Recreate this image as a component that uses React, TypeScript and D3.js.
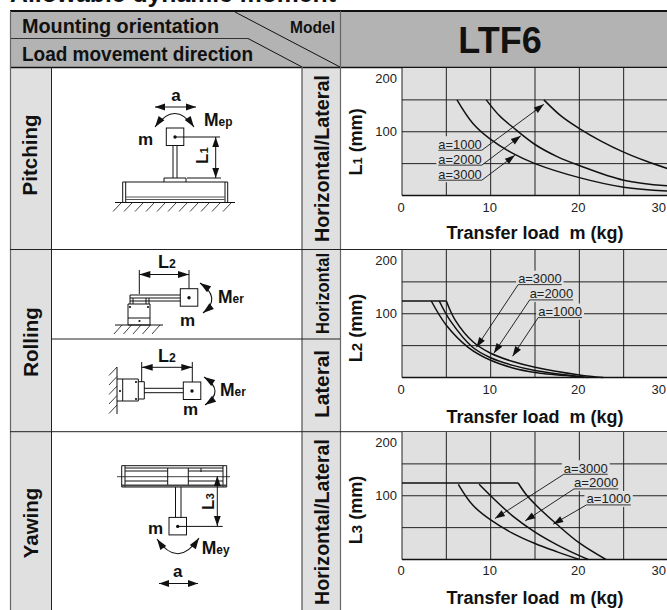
import React from "react";
import * as d3 from "d3";

const FONT = "'Liberation Sans', Arial, sans-serif";
const xTicks = [0, 10, 20, 30];
const xGrid = [5, 10, 15, 20, 25];
const yGrid = [50, 100, 150];
const yTickLabels = [100, 200];
const xTitle = "Transfer load  m (kg)";
const model = "LTF6";

type Pt = [number, number];
const ch1a1000: Pt[] = [[16, 150], [18, 124], [20, 105], [22.5, 85], [25, 68], [27.5, 54], [30, 42]];
const ch1a2000: Pt[] = [[9.5, 150], [11, 125], [12.5, 107], [15, 80], [17.5, 61], [20, 47], [25, 24], [30, 15]];
const ch1a3000: Pt[] = [[6.2, 150], [8, 113], [10, 88], [12.5, 66], [15, 50], [20, 28], [25, 13], [30, 7]];
const ch2a1000: Pt[] = [[5, 120], [6, 90], [8, 56], [10, 38], [12.5, 25], [15, 16], [20, 4], [22.7, 0]];
const ch2a2000: Pt[] = [[4.2, 120], [5.5, 88], [8, 47], [10, 31], [12.5, 19], [15, 11], [20, 1.5], [21, 0]];
const ch2a3000: Pt[] = [[3.3, 120], [5, 82], [7.5, 47], [10, 27], [12.5, 15], [15, 8], [20, 1], [20.5, 0]];
const ch2cap: Pt[] = [[0, 120], [5, 120]];
const ch3a1000: Pt[] = [[13.1, 120], [14, 102], [15.5, 80], [17.4, 56], [20, 26], [23, 0]];
const ch3a2000: Pt[] = [[8.7, 118], [10, 100], [12.5, 68], [15, 43], [17.5, 23], [20, 6], [21, 0]];
const ch3a3000: Pt[] = [[6.35, 118], [8, 85], [10, 62], [12.5, 41], [15, 25], [17.5, 12], [20, 0]];
const ch3cap: Pt[] = [[0, 120], [13.1, 120]];

type Note = { text: string; from: number; to: number; y: number; tip: Pt; side: "left" | "right" };
const notes1: Note[] = [
  { text: "a=1000", from: 4.1, to: 9, y: 71, tip: [16, 143], side: "right" },
  { text: "a=2000", from: 4.1, to: 9, y: 47.6, tip: [13.4, 93.6], side: "right" },
  { text: "a=3000", from: 4.1, to: 9, y: 24, tip: [12.73, 63], side: "right" },
];
const notes2: Note[] = [
  { text: "a=3000", from: 13.1, to: 18, y: 145.7, tip: [8.4, 47.5], side: "left" },
  { text: "a=2000", from: 14.4, to: 19.3, y: 121.7, tip: [10.36, 38], side: "left" },
  { text: "a=1000", from: 15.36, to: 20.3, y: 94, tip: [12.47, 33.4], side: "left" },
];
const notes3: Note[] = [
  { text: "a=3000", from: 18.25, to: 23.2, y: 133.7, tip: [10.48, 64.2], side: "left" },
  { text: "a=2000", from: 19.4, to: 24.4, y: 110.7, tip: [13.9, 60.6], side: "left" },
  { text: "a=1000", from: 20.8, to: 25.8, y: 85.6, tip: [17.05, 55.4], side: "left" },
];

const HEAD = "#b3b3b3";
const PANEL = "#e0e0e0";
const INK = "#111";

function Head({ x1, y1, x2, y2, size = 10, w = 3.4 }: { x1: number; y1: number; x2: number; y2: number; size?: number; w?: number }) {
  const a = Math.atan2(y2 - y1, x2 - x1);
  const bx = x2 - size * Math.cos(a);
  const by = y2 - size * Math.sin(a);
  const nx = -Math.sin(a) * w;
  const ny = Math.cos(a) * w;
  return <path d={`M${x2},${y2}L${bx + nx},${by + ny}L${bx - nx},${by - ny}Z`} fill={INK} />;
}

function DArrow({ x1, y1, x2, y2, size = 10 }: { x1: number; y1: number; x2: number; y2: number; size?: number }) {
  return (
    <g>
      <line x1={x1} y1={y1} x2={x2} y2={y2} stroke={INK} strokeWidth={1} />
      <Head x1={x1} y1={y1} x2={x2} y2={y2} size={size} />
      <Head x1={x2} y1={y2} x2={x1} y2={y1} size={size} />
    </g>
  );
}

function Bent({ a, c, b, size = 11 }: { a: Pt; c: Pt; b: Pt; size?: number }) {
  return (
    <g>
      <path d={`M${a[0]},${a[1]}Q${c[0]},${c[1]} ${b[0]},${b[1]}`} fill="none" stroke={INK} strokeWidth={1.1} />
      <Head x1={c[0]} y1={c[1]} x2={a[0]} y2={a[1]} size={size} w={3.6} />
      <Head x1={c[0]} y1={c[1]} x2={b[0]} y2={b[1]} size={size} w={3.6} />
    </g>
  );
}

function Sub({ x, y, big, small, size = 18, rotate }: { x: number; y: number; big: string; small: string; size?: number; rotate?: boolean }) {
  return (
    <text x={x} y={y} fontFamily={FONT} fontWeight="bold" fontSize={size} fill={INK}
      transform={rotate ? `rotate(-90 ${x} ${y})` : undefined}>
      {big}<tspan fontSize={size * 0.68}>{small}</tspan>
    </text>
  );
}

function Lines({ d, w = 1, c = INK }: { d: string; w?: number; c?: string }) {
  return <path d={d} fill="none" stroke={c} strokeWidth={w} />;
}

function Hatch({ xs, y, dx, dy }: { xs: number[]; y: number; dx: number; dy: number }) {
  return <path d={xs.map((x) => `M${x},${y}l${dx},${dy}`).join("")} stroke={INK} strokeWidth={0.8} fill="none" />;
}

function Mass({ x, y }: { x: number; y: number }) {
  return (
    <g>
      <rect x={x - 8.7} y={y - 9} width={17.5} height={17.5} fill="#fff" stroke={INK} strokeWidth={1} />
      <circle cx={x} cy={y} r={1.7} fill={INK} />
    </g>
  );
}

function Pitching() {
  return (
    <g>
      <text x={176} y={101} textAnchor="middle" fontFamily={FONT} fontWeight="bold" fontSize={17} fill={INK}>a</text>
      <DArrow x1={155} y1={107} x2={196} y2={107} />
      <Bent a={[155, 127]} c={[175, 100]} b={[194, 127]} />
      <Sub x={204} y={126} big="M" small="ep" size={17.5} />
      <text x={138} y={145} fontFamily={FONT} fontWeight="bold" fontSize={17} fill={INK}>m</text>
      <Mass x={175} y={137} />
      <Lines d="M175,137H220M173,146V178M177,146V178" />
      <Sub x={208} y={164} big="L" small="1" size={17} rotate />
      <DArrow x1={215.7} y1={137} x2={215.7} y2={178} size={10} />
      <Lines d="M164,182V178H186V182M187,178H221M122.7,182H227.7M122.7,182V202M227.7,182V202M125.7,182V202M225,182V202" />
      <Lines d="M126,197H225M126,199.5H225" c="#555" />
      <Lines d="M115,202.5H235" />
      <Hatch xs={d3.range(113, 233, 11)} y={211.5} dx={8} dy={-8.5} />
    </g>
  );
}

function RollingH() {
  return (
    <g>
      <Sub x={158} y={268} big="L" small="2" size={18} />
      <DArrow x1={139.3} y1={274.5} x2={189} y2={274.5} size={11} />
      <Lines d="M139.3,270V294M189,270V296" />
      <Lines d="M130,295H181M130,298H181M130,301H181M130,295V304M146,298V304M149,298V304M133,298V304" />
      <Lines d="M128,304H150V325H128ZM128,318H150" />
      <circle cx={130} cy={307} r={1.1} fill={INK} /><circle cx={148} cy={307} r={1.1} fill={INK} /><circle cx={139.5} cy={321} r={1.1} fill={INK} />
      <Mass x={189} y={297.7} />
      <Bent a={[200, 283]} c={[222, 298]} b={[203, 313]} />
      <Sub x={218} y={303} big="M" small="er" size={17.5} />
      <text x={180} y={326} fontFamily={FONT} fontWeight="bold" fontSize={17} fill={INK}>m</text>
      <Lines d="M115,325H163" />
      <Hatch xs={d3.range(114, 160, 9.5)} y={334} dx={8} dy={-9} />
    </g>
  );
}

function RollingL() {
  return (
    <g>
      <Sub x={158} y={361.7} big="L" small="2" size={18} />
      <DArrow x1={141.7} y1={367.3} x2={192.3} y2={367.3} size={11} />
      <Lines d="M141.7,362V382M192.3,362V384" />
      <Lines d="M117,367V414" />
      <path d={d3.range(367, 414, 9.5).map((y) => `M109,${y + 8.5}l8,-8.5`).join("")} stroke={INK} strokeWidth={0.8} fill="none" />
      <Lines d="M117,379H138.3V401H117M122.7,379V401M138.3,381.7H144.3V399H138.3M144,388.3H184M144,392.7H184" />
      <circle cx={136} cy={382} r={1.1} fill={INK} /><circle cx={136} cy={399} r={1.1} fill={INK} /><circle cx={120} cy={391} r={1.1} fill={INK} />
      <Mass x={192} y={391} />
      <Bent a={[204, 377]} c={[225.5, 391]} b={[205, 405]} />
      <Sub x={220} y={396} big="M" small="er" size={17.5} />
      <text x={183} y={415} fontFamily={FONT} fontWeight="bold" fontSize={17} fill={INK}>m</text>
    </g>
  );
}

function YawingD() {
  return (
    <g>
      <Lines d="M121.7,465.7H226.7V487H121.7ZM125,465.7V487M223,465.7V487M167.7,468V486M188.3,468V486M201,468V472" />
      <Lines d="M125,468H223M125,471H167.7M188.3,471H223M125,481H167.7M188.3,481H223" />
      <Lines d="M117,476.7H230" w={0.8} />
      <Lines d="M122,485.5H226" w={2} c="#444" />
      <Lines d="M175.5,487V518M181,487V518" />
      <Mass x={177.7} y={526.4} />
      <Lines d="M178,526.4H222.7" />
      <DArrow x1={217.3} y1={476} x2={217.3} y2={526} size={10} />
      <Sub x={214.3} y={510} big="L" small="3" size={17} rotate />
      <text x={148} y={533.5} fontFamily={FONT} fontWeight="bold" fontSize={17} fill={INK}>m</text>
      <Bent a={[157, 539]} c={[178, 569]} b={[199, 538]} />
      <Sub x={201.7} y={554.3} big="M" small="ey" size={17.5} />
      <text x={177.7} y={577.3} textAnchor="middle" fontFamily={FONT} fontWeight="bold" fontSize={17} fill={INK}>a</text>
      <DArrow x1={159} y1={583.5} x2={198} y2={583.5} />
    </g>
  );
}

const curve = d3.line<Pt>().curve(d3.curveCatmullRom.alpha(0.5));

function Chart({ top, series, caps, notes, sub, titleY, tickY, yTitleMid }: {
  top: number; series: Pt[][]; caps: Pt[][]; notes: Note[]; sub: string; titleY: number; tickY: number; yTitleMid: number;
}) {
  const x = d3.scaleLinear().domain([0, 30]).range([402, 668]);
  const y = d3.scaleLinear().domain([0, 200]).range([top + 127.5, top]);
  const pts = (s: Pt[]) => curve(s.map(([a, b]) => [x(a), y(b)] as Pt)) as string;
  return (
    <g fontFamily={FONT}>
      <rect x={x(0)} y={y(200)} width={667 - x(0)} height={y(0) - y(200)} fill={PANEL} />
      {xGrid.map((g) => <line key={g} x1={x(g)} x2={x(g)} y1={y(200)} y2={y(0)} stroke="#222" strokeWidth={1} />)}
      {yGrid.map((g) => <line key={g} x1={x(0)} x2={667} y1={y(g)} y2={y(g)} stroke="#222" strokeWidth={1} />)}
      <line x1={x(0)} x2={x(0)} y1={y(200)} y2={y(0)} stroke="#222" strokeWidth={1} />
      <line x1={x(0)} x2={667} y1={y(0)} y2={y(0)} stroke="#111" strokeWidth={1.3} />
      {notes.map((n) => (
        <rect key={n.text} x={x(n.from) - 2} width={x(n.to) - x(n.from) + 4} y={y(n.y) - 14} height={16} fill={PANEL} />
      ))}
      {caps.map((c, i) => <path key={i} d={pts(c)} fill="none" stroke={INK} strokeWidth={1.4} />)}
      {series.map((s, i) => <path key={i} d={pts(s)} fill="none" stroke={INK} strokeWidth={1.5} />)}
      {notes.map((n) => {
        const ax = n.side === "right" ? x(n.to) : x(n.from);
        return (
          <g key={n.text}>
            <text x={x(n.from)} y={y(n.y) - 1.5} fontSize={13.2} fill="#222" textLength={x(n.to) - x(n.from)} lengthAdjust="spacingAndGlyphs">{n.text}</text>
            <line x1={x(n.from)} x2={x(n.to)} y1={y(n.y)} y2={y(n.y)} stroke="#222" strokeWidth={0.9} />
            <line x1={ax} y1={y(n.y)} x2={x(n.tip[0])} y2={y(n.tip[1])} stroke={INK} strokeWidth={0.9} />
            <Head x1={ax} y1={y(n.y)} x2={x(n.tip[0])} y2={y(n.tip[1])} size={10} w={3.4} />
          </g>
        );
      })}
      <text x={397} y={y(200) + 15} textAnchor="end" fontSize={13} fill="#222">{yTickLabels[1]}</text>
      <text x={397} y={y(100) + 4.5} textAnchor="end" fontSize={13} fill="#222">{yTickLabels[0]}</text>
      {xTicks.map((t) => (
        <text key={t} x={t === 30 ? 666 : x(t) - 1} y={tickY} textAnchor={t === 30 ? "end" : "middle"} fontSize={13} fill="#222">{t}</text>
      ))}
      <text x={535} y={titleY} textAnchor="middle" fontSize={18} fontWeight="bold" fill={INK} style={{ whiteSpace: "pre" }}>{xTitle}</text>
      <text transform={`translate(361.5,${yTitleMid}) rotate(-90)`} textAnchor="middle" fontSize={18} fontWeight="bold" fill={INK}>
        L<tspan fontSize={sub === "1" ? 13 : 15}>{sub}</tspan> (mm)
      </text>
    </g>
  );
}

function Rot({ x, y, t, size, len }: { x: number; y: number; t: string; size: number; len?: number }) {
  return (
    <text transform={`translate(${x},${y}) rotate(-90)`} textAnchor="middle" fontFamily={FONT} fontWeight="bold" fontSize={size} fill={INK}
      textLength={len} lengthAdjust={len ? "spacingAndGlyphs" : undefined}>{t}</text>
  );
}

export default function App() {
  return (
    <svg width={667} height={610} viewBox="0 0 667 610" style={{ position: "absolute", left: 0, top: 0, background: "#fff" }}>
      <text x={10} y={2} fontFamily={FONT} fontWeight="bold" fontSize={24} fill={INK} textLength={326} lengthAdjust="spacingAndGlyphs">Allowable dynamic moment</text>

      <rect x={10} y={11} width={657} height={56} fill={HEAD} />
      <rect x={10} y={67} width={41} height={543} fill={PANEL} />
      <rect x={302} y={67} width={38} height={543} fill={PANEL} />

      <line x1={10} x2={667} y1={11} y2={11} stroke="#111" strokeWidth={2} />
      <line x1={10} x2={667} y1={67.5} y2={67.5} stroke="#111" strokeWidth={1.4} />
      <line x1={10} x2={248} y1={38.5} y2={38.5} stroke="#333" strokeWidth={1} />
      <line x1={235} y1={12} x2={340} y2={67} stroke="#111" strokeWidth={1} />
      <line x1={248} y1={38.5} x2={302} y2={67} stroke="#111" strokeWidth={1} />
      <line x1={10.5} x2={10.5} y1={11} y2={610} stroke="#666" strokeWidth={1.2} />
      <line x1={51.5} x2={51.5} y1={67} y2={610} stroke="#222" strokeWidth={1} />
      <line x1={302} x2={302} y1={67} y2={610} stroke="#666" strokeWidth={1.4} />
      <line x1={340.5} x2={340.5} y1={11} y2={610} stroke="#666" strokeWidth={1.2} />
      <line x1={10} x2={667} y1={249.5} y2={249.5} stroke="#222" strokeWidth={1} />
      <line x1={51} x2={340} y1={339} y2={339} stroke="#222" strokeWidth={1} />
      <line x1={10} x2={667} y1={431.7} y2={431.7} stroke="#222" strokeWidth={1} />

      <text x={22} y={33} fontFamily={FONT} fontWeight="bold" fontSize={19.8} fill={INK} textLength={197} lengthAdjust="spacingAndGlyphs">Mounting orientation</text>
      <text x={22} y={61} fontFamily={FONT} fontWeight="bold" fontSize={19.8} fill={INK} textLength={231} lengthAdjust="spacingAndGlyphs">Load movement direction</text>
      <text x={290} y={33} fontFamily={FONT} fontWeight="bold" fontSize={17} fill={INK} textLength={45} lengthAdjust="spacingAndGlyphs">Model</text>
      <text x={500} y={53} textAnchor="middle" fontFamily={FONT} fontWeight="bold" fontSize={36} fill={INK}>{model}</text>

      <Rot x={37} y={155} t="Pitching" size={20.5} />
      <Rot x={37.5} y={342} t="Rolling" size={20.5} />
      <Rot x={37.5} y={523} t="Yawing" size={20.5} />

      <Rot x={329} y={158.5} t="Horizontal/Lateral" size={20} len={167} />
      <Rot x={329} y={293.5} t="Horizontal" size={19} len={81} />
      <Rot x={329} y={384} t="Lateral" size={20} len={68} />
      <Rot x={329} y={522} t="Horizontal/Lateral" size={20} len={166} />

      <Pitching />
      <RollingH />
      <RollingL />
      <YawingD />

      <Chart top={68} series={[ch1a1000, ch1a2000, ch1a3000]} caps={[]} notes={notes1} sub="1" titleY={239} tickY={212} yTitleMid={142} />
      <Chart top={250} series={[ch2a1000, ch2a2000, ch2a3000]} caps={[ch2cap]} notes={notes2} sub="2" titleY={423} tickY={394} yTitleMid={328} />
      <Chart top={432} series={[ch3a1000, ch3a2000, ch3a3000]} caps={[ch3cap]} notes={notes3} sub="3" titleY={604} tickY={575} yTitleMid={510} />
    </svg>
  );
}
